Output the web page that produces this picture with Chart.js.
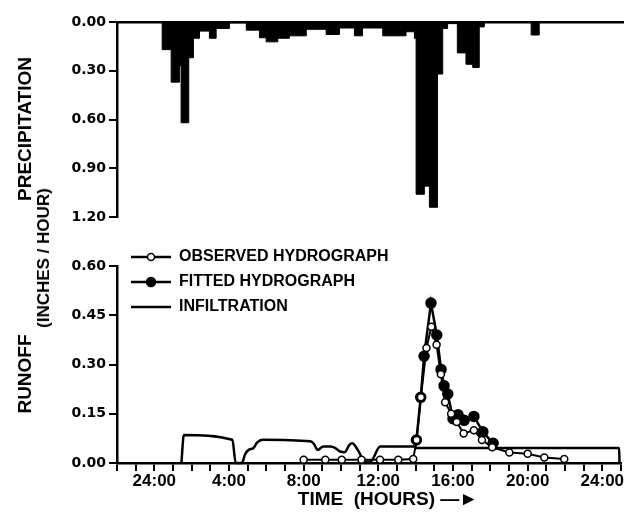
<!DOCTYPE html>
<html>
<head>
<meta charset="utf-8">
<script src="https://cdn.jsdelivr.net/npm/chart.js@4.4.1/dist/chart.umd.min.js"></script>
<style>
  html, body { margin: 0; padding: 0; background: #fff; }
  #wrap { position: relative; width: 628px; height: 512px; overflow: hidden; }
  canvas { position: absolute; left: 0; }
  #rain { top: 0; }
  #flow { top: 230px; }
  #units {
    position: absolute; left: 44px; top: 258px;
    transform: translate(-50%, -50%) rotate(-90deg);
    font: bold 17px "Liberation Sans", Arial, sans-serif;
    white-space: nowrap; color: #000;
  }
</style>
</head>
<body>
<div id="wrap">
  <canvas id="rain" width="628" height="232"></canvas>
  <canvas id="flow" width="628" height="282"></canvas>
  <div id="units">(INCHES / HOUR)</div>
</div>
<script>
// hours after midnight (24:00 = 0)
// precipitation, start of each interval and its rate (in/hr)
const rainTime = [-2, 0.41, 0.89, 1.33, 1.42, 1.83, 2.08, 2.4, 2.93, 3.29, 4.0, 4.9, 5.6, 5.96, 6.58, 7.2,
  8.1, 9.16, 9.87, 10.67, 11.1, 12.18, 13.42, 13.87, 13.96, 14.4, 14.67, 15.1, 15.38, 15.64, 16.16,
  16.62, 16.98, 17.33, 17.6, 20.1, 20.53, 25];
const rainRate = [0, 0.17, 0.37, 0.27, 0.62, 0.22, 0.10, 0.056, 0.10, 0.04, 0.005, 0.05, 0.097, 0.122, 0.10, 0.085,
  0.045, 0.077, 0.037, 0.085, 0.037, 0.085, 0.06, 0.10, 1.06, 1.01, 1.14, 0.32, 0.04, 0.01, 0.19,
  0.26, 0.28, 0.03, 0, 0.08, 0, 0];

// runoff
const obsTime = [8.0, 9.16, 10.04, 11.1, 12.09, 13.07, 13.87, 14.05, 14.28, 14.58, 14.84, 15.12, 15.35, 15.58,
  15.9, 16.2, 16.57, 17.12, 17.55, 18.1, 19.02, 20.0, 20.89, 21.96];
const obsFlow = [0.01, 0.01, 0.01, 0.01, 0.01, 0.01, 0.012, 0.07, 0.2, 0.35, 0.415, 0.36, 0.27, 0.185,
  0.15, 0.125, 0.09, 0.10, 0.07, 0.048, 0.032, 0.028, 0.017, 0.012];
const fitTime = [14.04, 14.27, 14.45, 14.82, 15.13, 15.36, 15.52, 15.72, 16.0, 16.27, 16.6, 17.12, 17.6, 18.15];
const fitFlow = [0.07, 0.2, 0.325, 0.487, 0.39, 0.285, 0.235, 0.21, 0.135, 0.147, 0.13, 0.142, 0.095, 0.06];
const infTime = [1.45, 1.58, 4.18, 4.36, 4.7, 4.85, 5.05, 5.3, 5.5, 5.8, 8.35, 8.55, 8.75, 9.05, 9.45, 9.7,
  9.95, 10.2, 10.45, 10.6, 10.9, 11.3, 11.6, 12.1, 13.95, 14.05, 24.9, 24.92];
const infRate = [0, 0.085, 0.071, 0, 0, 0.025, 0.04, 0.045, 0.062, 0.071, 0.066, 0.058, 0.04, 0.05, 0.05, 0.045,
  0.035, 0.033, 0.055, 0.06, 0.04, 0.003, 0.005, 0.05, 0.05, 0.046, 0.046, 0];

// axis ticks
const rainTicks = [0, 0.3, 0.6, 0.9, 1.2];
const flowTicks = [0, 0.15, 0.3, 0.45, 0.6];
const labelHours = [0, 4, 8, 12, 16, 20, 24];
const hourLabels = ['24:00', '4:00', '8:00', '12:00', '16:00', '20:00', '24:00'];

const pts = (xs, ys) => xs.map((x, i) => ({x: x, y: ys[i]}));

Chart.defaults.font.family = '"Liberation Sans", Arial, sans-serif';
Chart.defaults.font.weight = 'bold';
Chart.defaults.color = '#000';

const axisLine = {display: true, color: '#000', width: 2.5};
const tickGrid = {display: true, drawOnChartArea: false, drawTicks: true, tickLength: 8, color: '#000', lineWidth: 2};
const yTickFont = {family: '"DejaVu Sans", sans-serif', size: 14, weight: 'bold'};

// legend samples: line with open / filled dot
function legendIcon(radius, filled) {
    const c = document.createElement('canvas');
    c.width = 40;
    c.height = 12;
    const g = c.getContext('2d');
    g.strokeStyle = '#000';
    g.lineWidth = 2.5;
    g.beginPath();
    g.moveTo(0, 6);
    g.lineTo(40, 6);
    g.stroke();
    if (radius) {
        g.beginPath();
        g.arc(20, 6, radius, 0, Math.PI * 2);
        g.fillStyle = filled ? '#000' : '#fff';
        g.fill();
        g.lineWidth = 1.5;
        g.stroke();
    }
    return c;
}
const icons = [legendIcon(3.5, false), legendIcon(4.5, true), legendIcon(0, false)];

// legend sits partly above the plot, move it after layout
const legendShift = {
    id: 'legendShift',
    afterLayout(chart) {
        chart.legend.left = 122;
        chart.legend.top = 10;
    }
};

// Precipitation (top)
new Chart(document.getElementById('rain'), {
    type: 'line',
    data: {
        datasets: [{
            label: 'PRECIPITATION',
            data: pts(rainTime, rainRate),
            stepped: true,
            fill: 'origin',
            backgroundColor: '#000',
            borderColor: '#000',
            borderWidth: 1,
            pointRadius: 0
        }]
    },
    options: {
        responsive: false,
        animation: false,
        events: [],
        layout: { padding: { top: 22, right: 5, bottom: 15, left: 0 } },
        plugins: { legend: { display: false }, tooltip: { enabled: false } },
        scales: {
            x: {
                type: 'linear', min: -2, max: 25,
                position: 'top',
                ticks: { display: false },
                grid: { display: false },
                border: axisLine,
                afterFit: s => { s.height = 0; }
            },
            y: {
                reverse: true, min: 0, max: 1.2,
                border: axisLine,
                grid: tickGrid,
                afterBuildTicks: s => { s.ticks = rainTicks.map(v => ({ value: v })); },
                ticks: { font: yTickFont, padding: 3, callback: v => v.toFixed(2) },
                title: { display: true, text: 'PRECIPITATION\u2003', font: { size: 19 }, padding: { top: 14, bottom: 0 } },
                afterFit: s => { s.width = 117; }
            }
        }
    }
});

// Runoff (bottom)
new Chart(document.getElementById('flow'), {
    type: 'line',
    data: {
        datasets: [{
            label: 'OBSERVED HYDROGRAPH',
            data: pts(obsTime, obsFlow),
            borderColor: '#000',
            borderWidth: 2,
            pointRadius: 3.5,
            pointBackgroundColor: '#fff',
            pointBorderColor: '#000',
            pointBorderWidth: 1.5,
            clip: 6
        }, {
            label: 'FITTED HYDROGRAPH',
            data: pts(fitTime, fitFlow),
            borderColor: '#000',
            borderWidth: 2.5,
            pointRadius: 4.5,
            pointBackgroundColor: '#000',
            pointBorderColor: '#000',
            clip: 6
        }, {
            label: 'INFILTRATION',
            data: pts(infTime, infRate),
            borderColor: '#000',
            borderWidth: 2.5,
            pointRadius: 0,
            cubicInterpolationMode: 'monotone',
            clip: 6
        }]
    },
    options: {
        responsive: false,
        animation: false,
        events: [],
        layout: { padding: { top: 36, right: 5, bottom: 0, left: 0 } },
        plugins: {
            tooltip: { enabled: false },
            legend: {
                position: 'chartArea',
                align: 'start',
                labels: {
                    usePointStyle: true,
                    pointStyleWidth: 40,
                    boxHeight: 12,
                    padding: 9,
                    color: '#000',
                    font: { size: 16, weight: 'bold' },
                    generateLabels: chart => chart.data.datasets.map((ds, i) => ({
                        text: ds.label,
                        pointStyle: icons[i],
                        fillStyle: '#000',
                        strokeStyle: '#000',
                        lineWidth: 0,
                        hidden: false,
                        datasetIndex: i
                    }))
                }
            }
        },
        scales: {
            x: {
                type: 'linear', min: -2, max: 25,
                border: axisLine,
                grid: tickGrid,
                ticks: {
                    stepSize: 1, autoSkip: false, maxRotation: 0, padding: 0,
                    font: { size: 17, weight: 'bold' },
                    callback: v => {
                        const i = labelHours.indexOf(v);
                        return i < 0 ? '' : hourLabels[i];
                    }
                },
                title: { display: true, text: '\u2003\u2003TIME  (HOURS) \u2014\u25BA', font: { size: 19 }, padding: { top: 0, bottom: 1 } },
                afterFit: s => { s.height = 49; }
            },
            y: {
                min: 0, max: 0.6,
                border: axisLine,
                grid: tickGrid,
                afterBuildTicks: s => { s.ticks = flowTicks.map(v => ({ value: v })); },
                ticks: { font: yTickFont, padding: 3, callback: v => v.toFixed(2) },
                title: { display: true, text: 'RUNOFF\u2003', font: { size: 19 }, padding: { top: 14, bottom: 0 } },
                afterFit: s => { s.width = 117; }
            }
        }
    },
    plugins: [legendShift]
});
</script>
</body>
</html>
